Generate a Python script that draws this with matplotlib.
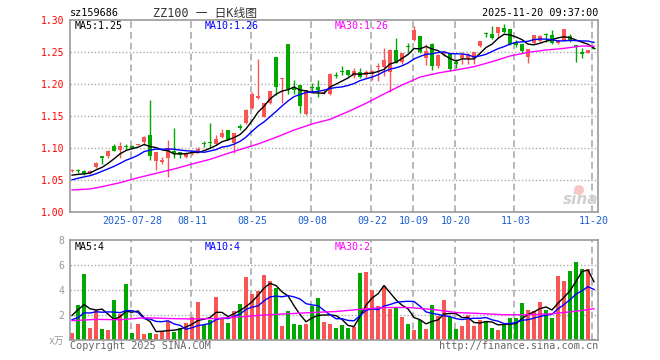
import matplotlib
matplotlib.use("Agg")
import matplotlib.pyplot as plt
import matplotlib.patches as mpatches
import numpy as np
import pandas as pd

plt.rcParams['font.family'] = ['DejaVu Sans Mono', 'Noto Sans CJK SC']

# daily bars 2025-07-14 .. 2025-11-20 (88 sessions)
OPEN = [1.064, 1.065, 1.064, 1.061, 1.071, 1.0875, 1.088, 1.103, 1.097, 1.1025,
        1.103, 1.105, 1.110, 1.120, 1.079, 1.0786, 1.084, 1.095, 1.093, 1.0855,
        1.091, 1.094, 1.108, 1.110, 1.106, 1.117, 1.128, 1.1085, 1.1325, 1.1385,
        1.162, 1.178, 1.149, 1.170, 1.2427, 1.208, 1.2625, 1.193, 1.198, 1.153,
        1.195, 1.196, 1.186, 1.184, 1.2125, 1.2185, 1.2218, 1.2125, 1.219, 1.214,
        1.215, 1.226, 1.227, 1.219, 1.253, 1.235, 1.259, 1.269, 1.275, 1.240,
        1.2625, 1.2286, 1.247, 1.248, 1.2325, 1.240, 1.240, 1.240, 1.260, 1.278,
        1.278, 1.279, 1.287, 1.286, 1.265, 1.2625, 1.2417, 1.2635, 1.2677, 1.2776,
        1.2766, 1.2646, 1.2677, 1.275, 1.261, 1.2505, 1.249, 1.255]
HIGH = [1.067, 1.067, 1.065, 1.065, 1.078, 1.088, 1.097, 1.106, 1.110, 1.106,
        1.104, 1.107, 1.118, 1.175, 1.094, 1.0865, 1.112, 1.131, 1.094, 1.094,
        1.096, 1.101, 1.111, 1.139, 1.120, 1.129, 1.128, 1.124, 1.137, 1.161,
        1.188, 1.239, 1.170, 1.189, 1.2427, 1.209, 1.2625, 1.206, 1.198, 1.190,
        1.202, 1.207, 1.190, 1.2167, 1.219, 1.228, 1.2225, 1.2245, 1.2245, 1.222,
        1.222, 1.233, 1.256, 1.254, 1.2715, 1.249, 1.2635, 1.2906, 1.275, 1.262,
        1.2635, 1.2475, 1.2505, 1.248, 1.2385, 1.2495, 1.248, 1.2495, 1.2672, 1.2818,
        1.291, 1.2896, 1.2938, 1.286, 1.268, 1.2625, 1.254, 1.2766, 1.2766, 1.279,
        1.284, 1.2687, 1.2854, 1.278, 1.261, 1.2557, 1.2531, 1.2555]
LOW = [1.062, 1.061, 1.058, 1.060, 1.068, 1.075, 1.084, 1.095, 1.084, 1.097,
       1.099, 1.104, 1.105, 1.081, 1.066, 1.075, 1.055, 1.084, 1.084, 1.084,
       1.089, 1.092, 1.102, 1.100, 1.104, 1.115, 1.112, 1.092, 1.128, 1.137,
       1.161, 1.176, 1.148, 1.169, 1.183, 1.171, 1.185, 1.185, 1.155, 1.151,
       1.188, 1.179, 1.184, 1.183, 1.209, 1.214, 1.213, 1.209, 1.209, 1.209,
       1.206, 1.204, 1.2125, 1.188, 1.2325, 1.232, 1.250, 1.2677, 1.249, 1.230,
       1.222, 1.2255, 1.244, 1.221, 1.2245, 1.232, 1.232, 1.232, 1.2583, 1.273,
       1.270, 1.274, 1.280, 1.261, 1.258, 1.248, 1.233, 1.262, 1.266, 1.266,
       1.2625, 1.262, 1.267, 1.266, 1.235, 1.240, 1.2479, 1.254]
CLOSE = [1.065, 1.064, 1.060, 1.064, 1.076, 1.085, 1.095, 1.096, 1.103, 1.1015,
         1.100, 1.106, 1.117, 1.087, 1.093, 1.082, 1.0995, 1.092, 1.089, 1.092,
         1.094, 1.098, 1.106, 1.108, 1.114, 1.123, 1.1125, 1.124, 1.132, 1.159,
         1.1844, 1.181, 1.170, 1.189, 1.1958, 1.209, 1.1917, 1.191, 1.165, 1.190,
         1.194, 1.190, 1.188, 1.215, 1.212, 1.218, 1.214, 1.221, 1.2105, 1.219,
         1.220, 1.227, 1.2375, 1.253, 1.233, 1.249, 1.258, 1.284, 1.2505, 1.252,
         1.2286, 1.246, 1.2495, 1.223, 1.232, 1.246, 1.245, 1.2495, 1.267, 1.2775,
         1.2724, 1.2896, 1.2818, 1.2625, 1.261, 1.252, 1.254, 1.2766, 1.275, 1.2766,
         1.2635, 1.2687, 1.2854, 1.2677, 1.2583, 1.2464, 1.2531, 1.2545]
VOLUME = [0.56, 2.83, 5.3, 0.96, 2.37, 0.9, 0.8, 3.2, 2.08, 4.5,
          0.56, 1.28, 0.48, 0.56, 0.48, 0.7, 1.55, 0.64, 0.96, 1.36,
          1.81, 3.04, 1.17, 1.63, 3.44, 1.76, 1.36, 2.35, 2.88, 5.04,
          3.68, 3.95, 5.23, 4.75, 4.16, 1.15, 2.35, 1.28, 1.23, 1.28,
          2.69, 3.36, 1.44, 1.28, 0.96, 1.17, 0.96, 1.01, 5.36, 5.44,
          4.0, 2.69, 4.29, 2.51, 2.56, 1.84, 1.28, 0.8, 1.63, 0.9,
          2.8, 1.89, 3.2, 1.81, 0.9, 1.15, 1.97, 1.15, 1.63, 1.49,
          0.96, 0.83, 1.28, 1.76, 1.76, 2.96, 2.43, 2.35, 3.04, 2.43,
          1.76, 5.15, 4.75, 5.55, 6.24, 5.71, 5.71, 0.1]

# nine sessions before the window, estimated from where MA5/MA10 start
PRE_CLOSE = [1.040, 1.038, 1.045, 1.046, 1.046, 1.058, 1.056, 1.057, 1.052]
PRE_VOLUME = [1.2, 1.5, 1.1, 1.4, 1.25, 0.55, 3.3, 2.6, 2.85]

# MA30 lines read directly (their history starts before the window)
MA30_PRICE_IDX = [0, 3, 5, 8, 11, 14, 17, 20, 23, 26, 29, 31, 34, 37, 40, 43,
                  46, 49, 52, 55, 58, 61, 64, 67, 70, 73, 76, 79, 82, 85, 87]
MA30_PRICE = [1.0344, 1.036, 1.0396, 1.0458, 1.0536, 1.0604, 1.0672, 1.075,
              1.0823, 1.0917, 1.1005, 1.1063, 1.1167, 1.128, 1.1375, 1.1448,
              1.1568, 1.1698, 1.1844, 1.1984, 1.2108, 1.2172, 1.2219, 1.227,
              1.2349, 1.2437, 1.2495, 1.2531, 1.2557, 1.2594, 1.259]
MA30_VOL_IDX = [0, 4, 8, 12, 16, 20, 24, 28, 32, 36, 40, 44, 48, 52, 56, 60,
                64, 68, 72, 76, 80, 84, 87]
MA30_VOL = [1.55, 1.65, 1.62, 1.78, 1.72, 1.68, 1.72, 1.85, 2.0, 2.1, 2.2,
            2.28, 2.45, 2.6, 2.6, 2.45, 2.2, 2.12, 2.02, 2.02, 2.1, 2.3, 2.5]

DATE_IDX = [10, 20, 30, 40, 50, 57, 64, 74, 87]
DATE_LABELS = ["2025-07-28", "08-11", "08-25", "09-08", "09-22", "10-09",
               "10-20", "11-03", "11-20"]
PRICE_TICKS = [1.00, 1.05, 1.10, 1.15, 1.20, 1.25, 1.30]
VOL_TICKS = [0, 2, 4, 6, 8]
VOL_TICK_LABELS = ["x万", "2", "4", "6", "8"]

UP, DOWN = "#fa5555", "#00a800"
GRID = "#aaaaaa"
W, H = 660, 360


def px(x, y):
    return x / W, 1 - y / H


o, h, l, c = map(np.array, (OPEN, HIGH, LOW, CLOSE))
x = np.arange(len(CLOSE))
cols = [UP if cc >= oo else DOWN for oo, cc in zip(o, c)]

closes = pd.Series(PRE_CLOSE + CLOSE)
ma5 = closes.rolling(5).mean().to_numpy()[len(PRE_CLOSE):]
ma10 = closes.rolling(10).mean().to_numpy()[len(PRE_CLOSE):]
vols = pd.Series(PRE_VOLUME + VOLUME)
vma5 = vols.rolling(5).mean().to_numpy()[len(PRE_VOLUME):]
vma10 = vols.rolling(10).mean().to_numpy()[len(PRE_VOLUME):]

fig = plt.figure(figsize=(6.6, 3.6), dpi=100)
ax = fig.add_axes([70 / W, 1 - 212 / H, 528 / W, 192 / H])
ax2 = fig.add_axes([70 / W, 1 - 340 / H, 528 / W, 100 / H])

xlim = (-0.35, len(CLOSE) - 1 + 0.67)

# --- price panel
ax.vlines(x, l, h, color=cols, lw=1, zorder=2)
ax.bar(x, np.maximum(np.abs(c - o), 0.0016), bottom=np.minimum(o, c),
       width=0.78, color=cols, lw=0, zorder=2)
ax.plot(x, ma5, color="black", lw=1, zorder=3)
ax.plot(x, ma10, color="#0000ff", lw=1, zorder=3)
ax.plot(MA30_PRICE_IDX, MA30_PRICE, color="#ff00ff", lw=1, zorder=3)
ax.set_ylim(1.0, 1.3)
ax.set_yticks(PRICE_TICKS)
ax.set_yticklabels([f"{t:.2f}" for t in PRICE_TICKS])
ax.tick_params(axis="y", length=0, pad=4, labelsize=7, labelcolor="#ff0000")
ax.set_xticks(DATE_IDX)
ax.set_xticklabels(DATE_LABELS)
ax.tick_params(axis="x", length=0, pad=3, labelsize=7.2, labelcolor="#1a5fd0")
for t in PRICE_TICKS[1:-1]:
    ax.axhline(t, color=GRID, lw=1, ls=(0, (1, 1.5)), zorder=1)

# --- volume panel
ax2.bar(x, VOLUME, width=0.8, color=cols, lw=0, zorder=2)
ax2.plot(x, vma5, color="black", lw=1, zorder=3)
ax2.plot(x, vma10, color="#0000ff", lw=1, zorder=3)
ax2.plot(MA30_VOL_IDX, MA30_VOL, color="#ff00ff", lw=1, zorder=3)
ax2.set_ylim(0, 8)
ax2.set_yticks(VOL_TICKS)
ax2.set_yticklabels(VOL_TICK_LABELS)
ax2.tick_params(axis="y", length=0, pad=4, labelsize=7, labelcolor="#999999")
ax2.set_xticks([])
for t in VOL_TICKS[1:-1]:
    ax2.axhline(t, color=GRID, lw=1, ls=(0, (1, 1.5)), zorder=1)

for a in (ax, ax2):
    a.set_xlim(*xlim)
    for d in DATE_IDX:
        a.axvline(d - 0.25, color=GRID, lw=1.2, ls=(0, (4, 2.5)), zorder=1)
    for s in a.spines.values():
        s.set_color("#999999")
        s.set_linewidth(1.2)

# --- header / legends / footer
fig.text(*px(70, 13), "sz159686", fontsize=7.3, va="center", ha="left")
fig.text(*px(205, 13), "ZZ100 一 日K线图", fontsize=8.5, va="center",
         ha="center", color="#333333")
fig.text(*px(598, 13), "2025-11-20 09:37:00", fontsize=7.3, va="center",
         ha="right")
for xp, txt, col in [(75, "MA5:1.25", "black"), (205, "MA10:1.26", "#0000ff"),
                     (335, "MA30:1.26", "#ff00ff")]:
    fig.text(*px(xp, 26), txt, fontsize=7.2, color=col, va="center")
for xp, txt, col in [(75, "MA5:4", "black"), (205, "MA10:4", "#0000ff"),
                     (335, "MA30:2", "#ff00ff")]:
    fig.text(*px(xp, 247), txt, fontsize=7.2, color=col, va="center")
fig.text(*px(70, 346), "Copyright 2025 SINA.COM", fontsize=7.3,
         color="#666666", va="center")
fig.text(*px(598, 346), "http://finance.sina.com.cn", fontsize=7.3,
         color="#666666", va="center", ha="right")

# sina watermark
fig.add_artist(mpatches.Circle((579, H - 190), 5, transform=None,
                               color="#f2b8b8", alpha=0.8, lw=0))
fig.text(*px(581, 200), "sina", fontsize=11, style="italic", weight="bold",
         color="#d0d0d0", ha="center", va="center", family="DejaVu Sans")

fig.savefig("out.png", dpi=100)
